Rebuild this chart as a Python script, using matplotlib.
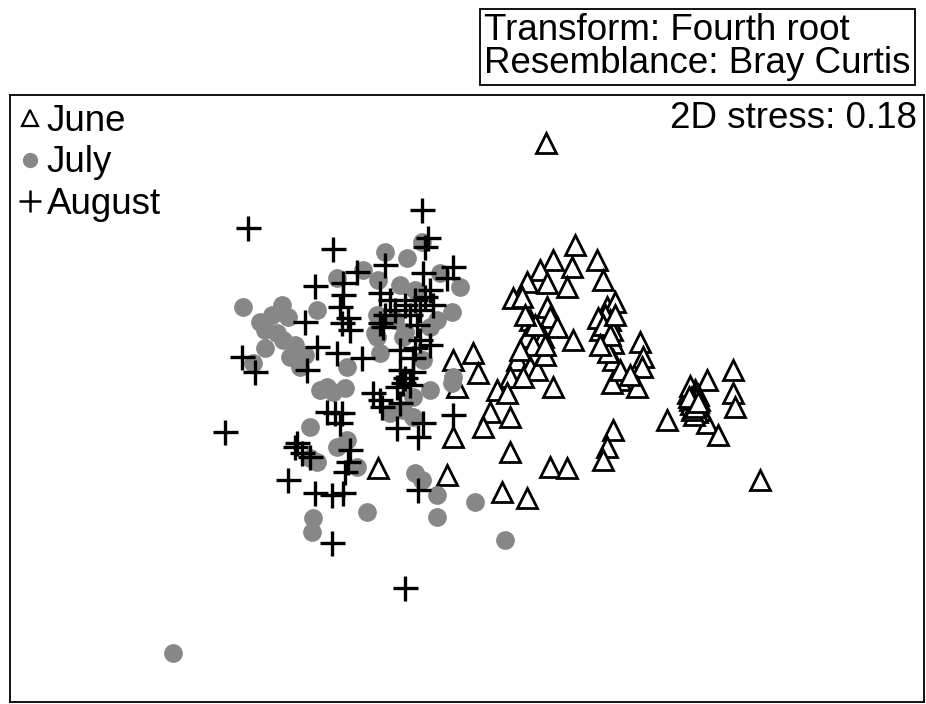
import matplotlib
matplotlib.use('Agg')
import matplotlib.pyplot as plt
from matplotlib.lines import Line2D

plt.rcParams['font.family'] = ['Liberation Sans', 'DejaVu Sans']

# MDS ordination scores (plotting units, y grows downward)
june_x = [546, 575, 553, 572, 597, 540, 527, 547, 567, 603, 513, 522, 547, 550, 530,
          537, 557, 527, 543, 573, 607, 615, 610, 600, 607, 613, 640, 643, 642, 613,
          620, 612, 637, 473, 453, 478, 457, 517, 530, 537, 510, 523, 497, 507, 553,
          490, 510, 483, 453, 510, 550, 567, 613, 607, 603, 447, 378, 502, 527, 667,
          707, 733, 733, 735, 707, 718, 760, 692, 694, 696, 693, 698, 700, 690, 605,
          612, 598, 608, 620, 630, 533, 520, 545, 535, 545, 525, 688, 691, 695, 697,
          690, 699, 694, 603, 610, 600, 615, 693, 696, 691, 697, 692, 695, 689, 698]
june_y = [143, 245, 260, 267, 260, 270, 282, 283, 287, 280, 298, 297, 307, 317, 320,
          330, 327, 337, 337, 340, 307, 302, 320, 330, 340, 343, 342, 357, 367, 360,
          380, 383, 387, 353, 360, 373, 387, 360, 367, 370, 377, 377, 390, 393, 387,
          412, 417, 427, 437, 452, 467, 468, 430, 447, 460, 475, 468, 492, 498, 420,
          380, 370, 393, 407, 423, 435, 480, 392, 398, 403, 408, 395, 410, 400, 315,
          330, 318, 352, 370, 375, 345, 350, 355, 325, 345, 315, 393, 404, 390, 412,
          386, 400, 415, 325, 335, 345, 315, 396, 399, 398, 405, 410, 407, 397, 402]

july_x = [173, 243, 282, 317, 260, 288, 337, 385, 407, 422, 363, 378, 440, 460, 452,
          377, 375, 403, 437, 430, 265, 277, 265, 253, 290, 300, 283, 320, 327, 310,
          337, 347, 380, 377, 405, 423, 430, 413, 390, 403, 452, 453, 333, 347, 413,
          317, 357, 313, 312, 367, 310, 415, 422, 437, 437, 475, 505, 272, 295, 305,
          400, 415, 395, 345]
july_y = [653, 307, 305, 310, 322, 317, 278, 252, 258, 242, 270, 280, 273, 287, 312,
          315, 333, 337, 320, 327, 330, 333, 348, 363, 357, 367, 340, 390, 387, 427,
          447, 367, 353, 337, 332, 360, 390, 397, 413, 410, 383, 377, 392, 440, 417,
          462, 467, 518, 532, 512, 458, 473, 480, 495, 517, 502, 540, 315, 345, 355,
          285, 290, 320, 388]

aug_x = [248, 333, 315, 305, 422, 428, 425, 453, 357, 385, 423, 447, 343, 343, 340,
         348, 350, 342, 380, 390, 395, 405, 415, 425, 430, 420, 433, 410, 385, 383,
         420, 430, 242, 255, 307, 317, 225, 297, 327, 335, 342, 340, 380, 417, 337,
         362, 400, 415, 413, 400, 405, 410, 403, 413, 373, 380, 382, 397, 400, 397,
         418, 423, 453, 295, 302, 310, 350, 348, 345, 288, 315, 332, 343, 332, 418,
         405]
aug_y = [228, 249, 286, 322, 210, 238, 247, 267, 272, 265, 273, 278, 283, 295, 307,
         318, 330, 323, 293, 300, 310, 305, 300, 297, 290, 310, 305, 315, 315, 327,
         340, 345, 357, 372, 370, 347, 432, 443, 412, 413, 413, 423, 323, 325, 353,
         358, 350, 348, 358, 370, 378, 385, 383, 372, 393, 400, 407, 387, 403, 428,
         437, 423, 415, 447, 453, 457, 450, 462, 472, 480, 493, 495, 493, 543, 490,
         588]

fs = 26.5
grey = '#878787'

fig = plt.figure(figsize=(9.26, 7.04), dpi=100)
ax = fig.add_axes([10 / 926, 2 / 704, 914 / 926, 607 / 704])

ax.plot(june_x, june_y, ls='none', marker='^', ms=15, mfc='white', mec='black', mew=2.0)
ax.plot(july_x, july_y, ls='none', marker='o', ms=13.5, mfc=grey, mec=grey, mew=0)
ax.plot(aug_x, aug_y, ls='none', marker='+', ms=18, mec='black', mew=2.4)

ax.set_xlim(10, 924)
ax.set_ylim(702, 95)
ax.set_xticks([])
ax.set_yticks([])
for s in ax.spines.values():
    s.set_linewidth(1.3)

handles = [
    Line2D([], [], ls='none', marker='^', ms=11, mfc='white', mec='black', mew=1.6),
    Line2D([], [], ls='none', marker='o', ms=11, mfc=grey, mec=grey, mew=0),
    Line2D([], [], ls='none', marker='+', ms=16, mec='black', mew=1.8),
]
ax.legend(handles, ['June', 'July', 'August'], loc='upper left', frameon=False,
          fontsize=fs, borderaxespad=0.15, borderpad=0.1, handlelength=0.6,
          handletextpad=0.15, labelspacing=0.17)

ax.text(0.992, 0.962, '2D stress: 0.18', transform=ax.transAxes, ha='right', va='center',
        fontsize=fs)

fig.text(484 / 926, 1 - 47 / 704, 'Transform: Fourth root\nResemblance: Bray Curtis',
         ha='left', va='center', fontsize=fs, linespacing=0.92,
         bbox=dict(boxstyle='square,pad=0.12', fc='white', ec='black', lw=1.3))

fig.savefig('out.png', dpi=100)
